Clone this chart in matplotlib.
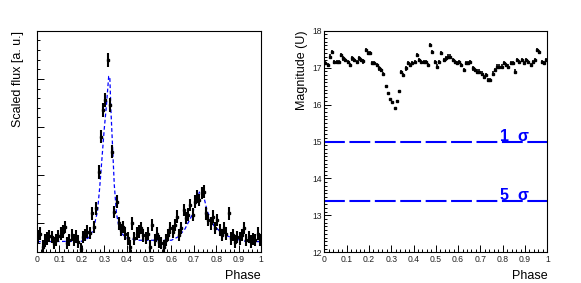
import matplotlib
matplotlib.use("Agg")
import matplotlib.pyplot as plt
from matplotlib.ticker import MultipleLocator, FixedLocator, NullFormatter
import numpy as np

plt.rcParams['font.family'] = ['Liberation Sans', 'DejaVu Sans']

# ---------------- data: left panel (scaled flux) ----------------
phase_flux = [0.005, 0.015, 0.025, 0.035, 0.045, 0.055, 0.065, 0.075, 0.085, 0.095,
              0.105, 0.115, 0.125, 0.135, 0.145, 0.155, 0.165, 0.175, 0.185, 0.195,
              0.205, 0.215, 0.225, 0.235, 0.245, 0.255, 0.265, 0.275, 0.285, 0.295,
              0.305, 0.315, 0.325, 0.335, 0.345, 0.355, 0.365, 0.375, 0.385, 0.395,
              0.405, 0.415, 0.425, 0.435, 0.445, 0.455, 0.465, 0.475, 0.485, 0.495,
              0.505, 0.515, 0.525, 0.535, 0.545, 0.555, 0.565, 0.575, 0.585, 0.595,
              0.605, 0.615, 0.625, 0.635, 0.645, 0.655, 0.665, 0.675, 0.685, 0.695,
              0.705, 0.715, 0.725, 0.735, 0.745, 0.755, 0.765, 0.775, 0.785, 0.795,
              0.805, 0.815, 0.825, 0.835, 0.845, 0.855, 0.865, 0.875, 0.885, 0.895,
              0.905, 0.915, 0.925, 0.935, 0.945, 0.955, 0.965, 0.975, 0.985, 0.995]
flux = [0.73, 0.79, 0.52, 0.64, 0.69, 0.74, 0.72, 0.59, 0.66, 0.74,
        0.79, 0.83, 0.93, 0.59, 0.66, 0.76, 0.66, 0.73, 0.62, 0.46,
        0.72, 0.76, 0.83, 0.80, 1.21, 0.93, 1.31, 2.07, 2.80, 3.35,
        3.56, 4.39, 3.46, 2.49, 1.24, 1.45, 1.00, 0.86, 0.93, 0.79,
        0.69, 0.52, 1.00, 0.69, 0.79, 0.83, 0.90, 0.75, 0.70, 0.79,
        0.52, 0.97, 0.66, 0.79, 0.62, 0.59, 0.52, 0.66, 0.76, 0.90,
        0.83, 0.97, 1.14, 0.76, 0.90, 1.28, 1.11, 1.18, 1.38, 1.18,
        1.45, 1.56, 1.49, 1.63, 1.66, 1.21, 1.07, 1.00, 1.14, 0.90,
        1.07, 0.86, 0.76, 0.90, 0.79, 1.21, 0.69, 0.76, 0.62, 0.72,
        0.69, 0.76, 0.90, 0.66, 0.72, 0.62, 0.68, 0.66, 0.79, 0.66]
flux_err = [0.13, 0.13, 0.13, 0.13, 0.13, 0.13, 0.13, 0.13, 0.13, 0.13,
            0.13, 0.13, 0.13, 0.13, 0.13, 0.13, 0.13, 0.13, 0.13, 0.13,
            0.13, 0.13, 0.13, 0.13, 0.13, 0.13, 0.13, 0.14, 0.14, 0.14,
            0.14, 0.14, 0.14, 0.14, 0.13, 0.13, 0.13, 0.13, 0.13, 0.13,
            0.13, 0.13, 0.13, 0.13, 0.13, 0.13, 0.13, 0.13, 0.13, 0.13,
            0.13, 0.13, 0.13, 0.13, 0.13, 0.13, 0.13, 0.13, 0.13, 0.13,
            0.13, 0.13, 0.13, 0.13, 0.13, 0.13, 0.13, 0.13, 0.13, 0.13,
            0.13, 0.13, 0.13, 0.13, 0.13, 0.13, 0.13, 0.13, 0.13, 0.13,
            0.13, 0.13, 0.13, 0.13, 0.13, 0.13, 0.13, 0.13, 0.13, 0.13,
            0.13, 0.13, 0.13, 0.13, 0.13, 0.13, 0.13, 0.13, 0.13, 0.13]

# model curve (blue dashed)
model_phase = [0.0, 0.20, 0.23, 0.25, 0.27, 0.28, 0.29, 0.30, 0.31, 0.32, 0.325,
               0.33, 0.345, 0.355, 0.365, 0.38, 0.40, 0.45, 0.60, 0.63, 0.66,
               0.69, 0.715, 0.725, 0.745, 0.76, 0.79, 0.83, 0.88, 0.93, 1.0]
model_flux = [0.62, 0.63, 0.70, 0.85, 1.25, 1.75, 2.35, 2.95, 3.45, 4.05, 4.05,
              3.35, 1.80, 1.20, 0.95, 0.78, 0.70, 0.65, 0.65, 0.72, 0.88,
              1.15, 1.50, 1.65, 1.55, 1.25, 0.95, 0.78, 0.68, 0.63, 0.62]

# ---------------- data: right panel (magnitude) ----------------
phase_mag = phase_flux
mag = [17.12, 17.07, 17.30, 17.43, 17.16, 17.16, 17.16, 17.34, 17.25, 17.21,
       17.16, 17.07, 17.25, 17.21, 17.16, 17.25, 17.21, 17.17, 17.48, 17.39,
       17.39, 17.12, 17.12, 17.07, 16.98, 16.93, 16.84, 16.50, 16.30, 16.14,
       16.08, 15.90, 16.11, 16.38, 16.89, 16.80, 16.98, 17.12, 17.07, 17.12,
       17.16, 17.34, 17.21, 17.16, 17.16, 17.16, 17.07, 17.61, 17.43, 17.16,
       17.03, 17.16, 17.39, 17.21, 17.25, 17.30, 17.30, 17.21, 17.16, 17.12,
       17.16, 17.07, 16.93, 17.12, 17.12, 17.16, 16.98, 16.93, 16.89, 16.89,
       16.84, 16.75, 16.80, 16.66, 16.66, 16.84, 16.93, 17.03, 17.03, 17.03,
       17.12, 17.07, 17.03, 17.12, 17.12, 16.89, 17.21, 17.16, 17.21, 17.12,
       17.21, 17.16, 17.07, 17.16, 17.21, 17.48, 17.43, 17.16, 17.12, 17.21]
mag_err = [0.06, 0.06, 0.06, 0.06, 0.06, 0.06, 0.06, 0.06, 0.06, 0.06,
           0.06, 0.06, 0.06, 0.06, 0.06, 0.06, 0.06, 0.06, 0.06, 0.06,
           0.06, 0.06, 0.06, 0.06, 0.06, 0.06, 0.05, 0.02, 0.02, 0.02,
           0.02, 0.02, 0.02, 0.02, 0.05, 0.05, 0.06, 0.06, 0.06, 0.06,
           0.06, 0.06, 0.06, 0.06, 0.06, 0.06, 0.06, 0.06, 0.06, 0.06,
           0.06, 0.06, 0.06, 0.06, 0.06, 0.06, 0.06, 0.06, 0.06, 0.06,
           0.06, 0.06, 0.06, 0.06, 0.06, 0.06, 0.06, 0.06, 0.06, 0.06,
           0.06, 0.06, 0.06, 0.06, 0.06, 0.06, 0.06, 0.06, 0.06, 0.06,
           0.06, 0.06, 0.06, 0.06, 0.06, 0.06, 0.06, 0.06, 0.06, 0.06,
           0.06, 0.06, 0.06, 0.06, 0.06, 0.06, 0.06, 0.06, 0.06, 0.06]

sigma_levels = [15.0, 13.4]
sigma_labels = ["1  σ", "5  σ"]

x_ticks = [0, 0.1, 0.2, 0.3, 0.4, 0.5, 0.6, 0.7, 0.8, 0.9, 1]
x_tick_labels = ["0", "0.1", "0.2", "0.3", "0.4", "0.5", "0.6", "0.7", "0.8", "0.9", "1"]

# ---------------- figure ----------------
fig = plt.figure(figsize=(5.81, 2.83), dpi=100)
axL = fig.add_axes([37 / 581, 1 - 252.3 / 283, 224 / 581, 221.6 / 283])
axR = fig.add_axes([324.3 / 581, 1 - 252.3 / 283, 223 / 581, 221.6 / 283])

def style_axis(ax):
    for s in ax.spines.values():
        s.set_linewidth(0.8)
        s.set_color('black')
    ax.set_xlim(0, 1)
    ax.xaxis.set_major_locator(FixedLocator(x_ticks))
    ax.set_xticklabels(x_tick_labels)
    ax.xaxis.set_minor_locator(MultipleLocator(0.02))
    ax.tick_params(axis='both', which='both', direction='in', top=False, right=False,
                   width=0.7, labelsize=6.2, pad=2, labelcolor='#222222')
    ax.tick_params(axis='both', which='major', length=5)
    ax.tick_params(axis='both', which='minor', length=2.5)
    ax.set_xlabel("Phase", fontsize=9, loc='right', labelpad=4)

# left panel
style_axis(axL)
axL.set_ylim(0.4, 5.0)
axL.yaxis.set_major_locator(MultipleLocator(1.0))
axL.yaxis.set_minor_locator(MultipleLocator(0.2))
axL.yaxis.set_major_formatter(NullFormatter())
axL.plot(model_phase, model_flux, color='blue', lw=0.9, ls=(0, (3, 2)), zorder=2)
axL.errorbar(phase_flux, flux, yerr=flux_err, fmt='s', color='black', ms=1.8,
             elinewidth=1.5, capsize=0, zorder=3)
axL.set_ylabel("Scaled flux [a. u.]", fontsize=9, loc='top', labelpad=7)

# right panel
style_axis(axR)
axR.set_ylim(12, 18)
axR.yaxis.set_major_locator(MultipleLocator(1.0))
axR.yaxis.set_minor_locator(MultipleLocator(0.1))
axR.tick_params(axis='y', which='minor', length=2)
for lvl, lab in zip(sigma_levels, sigma_labels):
    axR.axhline(lvl, color='blue', lw=1.5, ls=(0, (10, 2.2)), zorder=2)
    axR.text(0.79, lvl + 0.02, lab, color='blue', fontsize=11.5, fontweight='bold',
             ha='left', va='baseline', zorder=4)
axR.errorbar(phase_mag, mag, yerr=mag_err, fmt='s', color='black', ms=1.6,
             elinewidth=1.2, capsize=0, zorder=3)
axR.set_ylabel("Magnitude (U)", fontsize=9, loc='top', labelpad=3)

fig.savefig("out.png", dpi=100)
